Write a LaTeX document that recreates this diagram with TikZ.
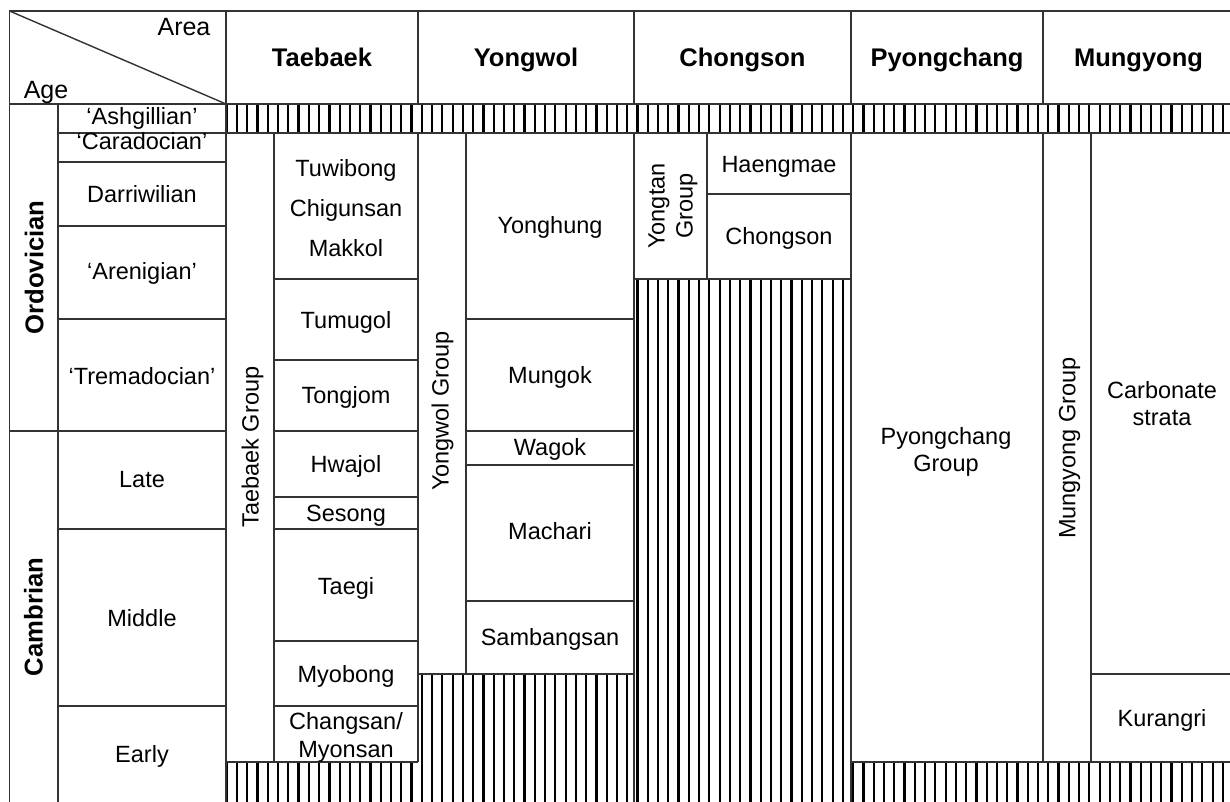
\documentclass[tikz,border=0pt]{standalone}
\usepackage{fontspec}
\setmainfont{Liberation Sans}
\usepackage{tikz}

\begin{document}
\begin{tikzpicture}[x=10pt, y=-10pt,
    rule/.style={draw=black!80, line width=1.4pt},
    hatch/.style={draw=black, line width=2.2pt},
    lbl/.style={font=\fontsize{23.5}{28}\selectfont, inner sep=0pt, text height=16.8pt, text depth=0pt},
    multi/.style={align=center, inner sep=0pt},
    corner/.style={font=\fontsize{25}{30}\selectfont, inner sep=0pt, text height=17.9pt, text depth=0pt},
    hdr/.style={font=\fontsize{25.5}{30}\selectfont\bfseries, inner sep=0pt, text height=18.3pt, text depth=0pt},
    period/.style={font=\fontsize{25.7}{30}\selectfont\bfseries, rotate=90, inner sep=0pt, text height=18.4pt, text depth=0pt},
    grp/.style={lbl, rotate=90}]
    \clip (0,0) rectangle (123,80.2);

    % Hatched gaps
    \begin{scope}
        \clip (22.6,10.4) rectangle (123.4,13.3)
              (22.6,76.2) -| (41.8,67.4) -| (63.4,27.9) -| (85.1,76.2) -| (123.4,80.4) -- (22.6,80.4) -- cycle;
        \foreach \k in {0,...,98}
            \draw[hatch] ({22.67+\k*1.027},10.4) -- ++(0,70);
    \end{scope}

    % Frame and header
    \draw[rule] (0.95,1.1) rectangle (123.4,80.4);
    \draw[rule] (0.95,1.1) -- (22.6,10.4);
    \draw[rule] (0.95,10.4) -- (123.4,10.4);
    \draw[rule] (5.8,13.3) -- (123.4,13.3);
    \foreach \x in {22.6,41.8,63.4,85.1,104.3}
        \draw[rule] (\x,1.1) -- (\x,10.4);
    \node[corner] (area) at (18.4,2.67) {Area};
    \node[corner] (age) at (4.6,8.95) {Age};
    \node[hdr] (hTaebaek) at (32.2,5.75) {Taebaek};
    \node[hdr] (hYongwol) at (52.6,5.75) {Yongwol};
    \node[hdr] (hChongson) at (74.25,5.75) {Chongson};
    \node[hdr] (hPyongchang) at (94.7,5.75) {Pyongchang};
    \node[hdr] (hMungyong) at (113.85,5.75) {Mungyong};

    % Age column
    \draw[rule] (5.8,10.4) -- (5.8,80.4);
    \draw[rule] (0.95,43.1) -- (5.8,43.1);
    \draw[rule] (22.6,10.4) -- (22.6,80.4);
    \foreach \y in {16.2,22.6,31.9,43.1,52.9,70.6}
        \draw[rule] (5.8,\y) -- (22.6,\y);
    \node[period] (ordovician) at (3.42,26.75) {Ordovician};
    \node[period] (cambrian) at (3.35,61.7) {Cambrian};
    \node[lbl] (ashgillian) at (14.2,11.65) {‘Ashgillian’};
    \node[lbl] (caradocian) at (14.2,14.1) {‘Caradocian’};
    \node[lbl] (darriwilian) at (14.2,19.45) {Darriwilian};
    \node[lbl] (arenigian) at (14.2,27.1) {‘Arenigian’};
    \node[lbl] (tremadocian) at (14.2,37.6) {‘Tremadocian’};
    \node[lbl] (late) at (14.2,47.95) {Late};
    \node[lbl] (middle) at (14.2,61.8) {Middle};
    \node[lbl] (early) at (14.2,75.4) {Early};

    % Taebaek
    \draw[rule] (27.4,13.3) -- (27.4,76.2);
    \draw[rule] (41.8,13.3) -- (41.8,76.2);
    \draw[rule] (22.6,76.2) -- (41.8,76.2);
    \foreach \y in {27.9,36.0,43.1,49.7,52.9,64.1,70.6}
        \draw[rule] (27.4,\y) -- (41.8,\y);
    \node[grp] (taebaekGrp) at (25.02,44.7) {Taebaek Group};
    \node[multi, font=\fontsize{23.5}{40}\selectfont] (tuwibong) at (34.6,20.83) {Tuwibong\\Chigunsan\\Makkol};
    \node[lbl] (tumugol) at (34.6,32.05) {Tumugol};
    \node[lbl] (tongjom) at (34.6,39.5) {Tongjom};
    \node[lbl] (hwajol) at (34.6,46.4) {Hwajol};
    \node[lbl] (sesong) at (34.6,51.3) {Sesong};
    \node[lbl] (taegi) at (34.6,58.6) {Taegi};
    \node[lbl] (myobong) at (34.6,67.4) {Myobong};
    \node[multi, font=\fontsize{23.5}{28.5}\selectfont] (changsan) at (34.6,73.73) {Changsan/\\Myonsan};

    % Yongwol
    \draw[rule] (46.6,13.3) -- (46.6,67.4);
    \draw[rule] (63.4,13.3) -- (63.4,80.4);
    \draw[rule] (41.8,67.4) -- (63.4,67.4);
    \foreach \y in {31.9,43.1,46.5,60.1}
        \draw[rule] (46.6,\y) -- (63.4,\y);
    \node[grp] (yongwolGrp) at (44.02,41.1) {Yongwol Group};
    \node[lbl] (yonghung) at (55.0,22.5) {Yonghung};
    \node[lbl] (mungok) at (55.0,37.5) {Mungok};
    \node[lbl] (wagok) at (55.0,44.7) {Wagok};
    \node[lbl] (machari) at (55.0,53.1) {Machari};
    \node[lbl] (sambangsan) at (55.0,63.7) {Sambangsan};

    % Chongson
    \draw[rule] (70.7,13.3) -- (70.7,27.9);
    \draw[rule] (70.7,19.4) -- (85.1,19.4);
    \draw[rule] (63.4,27.9) -- (85.1,27.9);
    \draw[rule] (85.1,13.3) -- (85.1,80.4);
    \node[multi, rotate=90, font=\fontsize{23.5}{28}\selectfont] (yongtanGrp) at (67.3,20.6) {Yongtan\\Group};
    \node[lbl] (haengmae) at (77.9,16.4) {Haengmae};
    \node[lbl] (chongsonFm) at (77.9,23.6) {Chongson};

    % Pyongchang and Mungyong
    \draw[rule] (85.1,76.2) -- (123.4,76.2);
    \draw[rule] (104.3,13.3) -- (104.3,76.2);
    \draw[rule] (109.1,13.3) -- (109.1,76.2);
    \draw[rule] (109.1,67.4) -- (123.4,67.4);
    \node[multi, font=\fontsize{23.5}{27}\selectfont] (pyongchangGrp) at (94.6,45.2) {Pyongchang\\Group};
    \node[grp] (mungyongGrp) at (106.7,44.8) {Mungyong Group};
    \node[multi, font=\fontsize{23.5}{26.7}\selectfont] (carbonate) at (116.2,40.35) {Carbonate\\strata};
    \node[lbl] (kurangri) at (116.2,71.8) {Kurangri};
\end{tikzpicture}
\end{document}
